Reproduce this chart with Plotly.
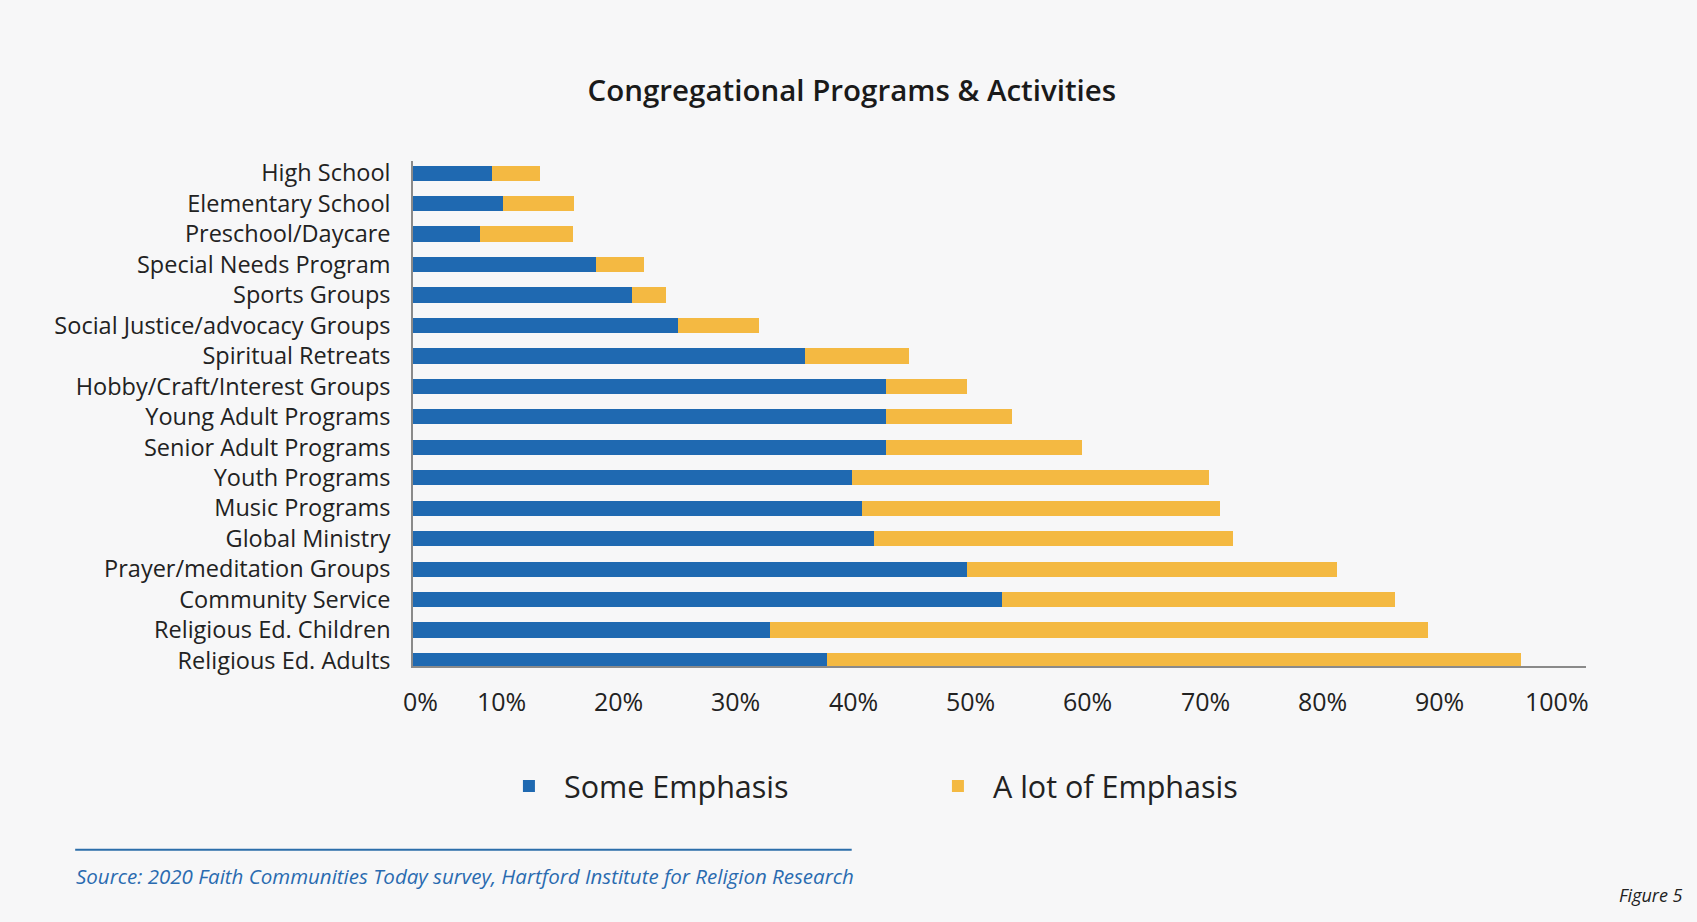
import plotly.graph_objects as go

# top-to-bottom order as shown in the chart
programs = [
    "High School", "Elementary School", "Preschool/Daycare", "Special Needs Program",
    "Sports Groups", "Social Justice/advocacy Groups", "Spiritual Retreats",
    "Hobby/Craft/Interest Groups", "Young Adult Programs", "Senior Adult Programs",
    "Youth Programs", "Music Programs", "Global Ministry", "Prayer/meditation Groups",
    "Community Service", "Religious Ed. Children", "Religious Ed. Adults",
]
some_emphasis = [6.7, 7.7, 5.7, 15.6, 18.7, 22.6, 33.4, 40.3, 40.3, 40.3,
                 37.4, 38.3, 39.3, 47.2, 50.2, 30.4, 35.3]
lot_emphasis = [4.1, 6.0, 7.9, 4.1, 2.9, 6.9, 8.9, 6.9, 10.8, 16.7,
                30.5, 30.5, 30.6, 31.6, 33.5, 56.1, 59.2]
x_ticks = [0, 10, 20, 30, 40, 50, 60, 70, 80, 90, 100]

BLUE = "#1f69b1"
YELLOW = "#f4b942"
BG = "#f7f7f8"
FONT = "'Open Sans', Lato, sans-serif"

fig = go.Figure()
fig.add_trace(go.Bar(y=programs, x=some_emphasis, orientation="h", name="Some Emphasis",
                     marker=dict(color=BLUE, line=dict(width=0)), width=0.5))
fig.add_trace(go.Bar(y=programs, x=lot_emphasis, orientation="h", name="A lot of Emphasis",
                     marker=dict(color=YELLOW, line=dict(width=0)), width=0.5))

# x tick labels sit a bit left of their ticks in the original (except 0%)
for v in x_ticks:
    fig.add_annotation(x=v, y=0, xref="x", yref="paper", yanchor="top", yshift=-16,
                       xshift=(7 if v == 0 else -29), text=f"{v}%", showarrow=False,
                       font=dict(family=FONT, size=25, color="#222"))

# source rule + caption
fig.add_shape(type="line", xref="paper", yref="paper", x0=-0.288, x1=0.374, y0=-0.364, y1=-0.364,
              line=dict(color="#2c6eaa", width=2))
fig.add_annotation(x=-0.289, y=-0.416, xref="paper", yref="paper", xanchor="left", yanchor="middle",
                   text="<i>Source: 2020 Faith Communities Today survey, Hartford Institute for Religion Research</i>",
                   showarrow=False, font=dict(family=FONT, size=20.5, color="#2a6bb0"))
fig.add_annotation(x=1.084, y=-0.453, xref="paper", yref="paper", xanchor="right", yanchor="middle",
                   text="<i>Figure 5</i>", showarrow=False, font=dict(family=FONT, size=18, color="#222"))

fig.update_layout(
    width=1697, height=922,
    barmode="stack", bargap=0.5,
    paper_bgcolor=BG, plot_bgcolor=BG,
    margin=dict(l=413, r=111, t=161, b=256),
    title=dict(text="Congregational Programs & Activities", x=0.502, xanchor="center",
               y=0.902, yanchor="middle",
               font=dict(family="'Open Sans', sans-serif", size=29.5, color="#1a1a1a", weight=600)),
    xaxis=dict(range=[0, 100], showgrid=False, zeroline=False, showticklabels=False,
               showline=True, linecolor="#8a8a8a", linewidth=1.5, ticks=""),
    yaxis=dict(range=[16.18, -0.4], showgrid=False, zeroline=False, showline=True,
               linecolor="#8a8a8a", linewidth=1.5, ticks="", ticklabelstandoff=16,
               tickfont=dict(family=FONT, size=23.5, color="#222")),
    legend=dict(orientation="h", x=0.069, xanchor="left", y=-0.238, yanchor="middle",
                itemwidth=60, entrywidth=354, entrywidthmode="pixels", bgcolor="rgba(0,0,0,0)",
                font=dict(family=FONT, size=30.5, color="#222"), traceorder="normal"),
    showlegend=True,
)

fig.write_html("out.html", config={"displayModeBar": False},
               post_script="document.body.style.margin='0';"
                           "document.body.style.background='#f7f7f8';")
